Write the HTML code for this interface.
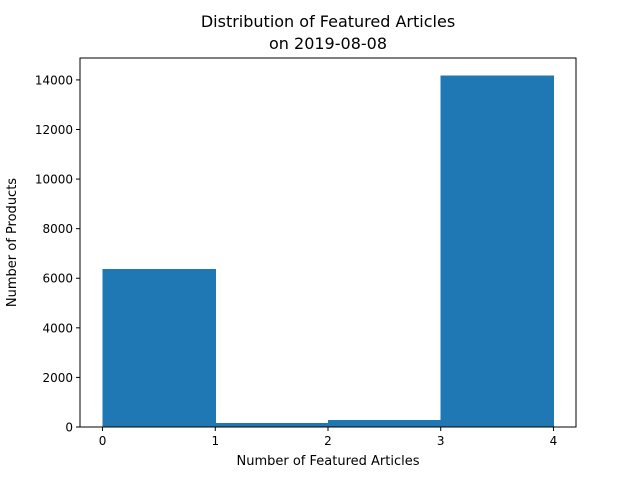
<!DOCTYPE html>
<html><head><meta charset="utf-8"><style>
html,body{margin:0;padding:0;background:#fff;}
svg text{font-family:"DejaVu Sans","Liberation Sans",sans-serif;fill:#000;}
</style></head><body>
<svg id="chart" width="640" height="480" xmlns="http://www.w3.org/2000/svg">
<rect width="640" height="480" fill="#fff"/>
<text x="328" y="27" font-size="16" text-anchor="middle">Distribution of Featured Articles</text>
<text x="328" y="49" font-size="16" text-anchor="middle">on 2019-08-08</text>
<g id="bars" shape-rendering="crispEdges"></g>
<g id="axes"></g>
<text x="328" y="465" font-size="13" text-anchor="middle">Number of Featured Articles</text>
<text transform="translate(16,242.5) rotate(-90)" font-size="13" text-anchor="middle">Number of Products</text>
</svg>
<script>
const binEdges = [0, 1, 2, 3, 4];
const counts = [6370, 160, 280, 14175];
const xTicks = [0, 1, 2, 3, 4];
const yTicks = [0, 2000, 4000, 6000, 8000, 10000, 12000, 14000];

const L = 80, R = 576, T = 58, B = 427;
const xMin = -0.2, xMax = 4.2;
const yMax = Math.max(...counts) * 1.05;
const sx = v => L + (v - xMin) / (xMax - xMin) * (R - L);
const sy = v => B - v / yMax * (B - T);
const NS = "http://www.w3.org/2000/svg";
function mk(tag, attrs, parent) {
  const e = document.createElementNS(NS, tag);
  for (const k in attrs) e.setAttribute(k, attrs[k]);
  parent.appendChild(e);
  return e;
}
const bars = document.getElementById('bars');
counts.forEach((c, i) => {
  const x0 = sx(binEdges[i]), x1 = sx(binEdges[i + 1]);
  const r = mk('rect', {x: x0, y: sy(c), width: x1 - x0 + 0.5, height: B - sy(c), fill: '#1f77b4'}, bars);
  
  
});
const axes = document.getElementById('axes');
const frame = mk('rect', {x: L, y: T, width: R - L, height: B - T, fill: 'none', stroke: '#000', 'stroke-width': 1}, axes);


xTicks.forEach(v => {
  const x = sx(v);
  mk('line', {x1: x, x2: x, y1: B, y2: B + 4, stroke: '#000'}, axes);
  const t = mk('text', {x: x, y: B + 18, 'font-size': 12, 'text-anchor': 'middle'}, axes);
  t.textContent = v;
  
  
});
yTicks.forEach(v => {
  const y = sy(v);
  mk('line', {x1: L - 4, x2: L, y1: y, y2: y, stroke: '#000'}, axes);
  const t = mk('text', {x: L - 7, y: y + 4.5, 'font-size': 12, 'text-anchor': 'end'}, axes);
  t.textContent = v;
  
  
});
</script>
</body></html>
